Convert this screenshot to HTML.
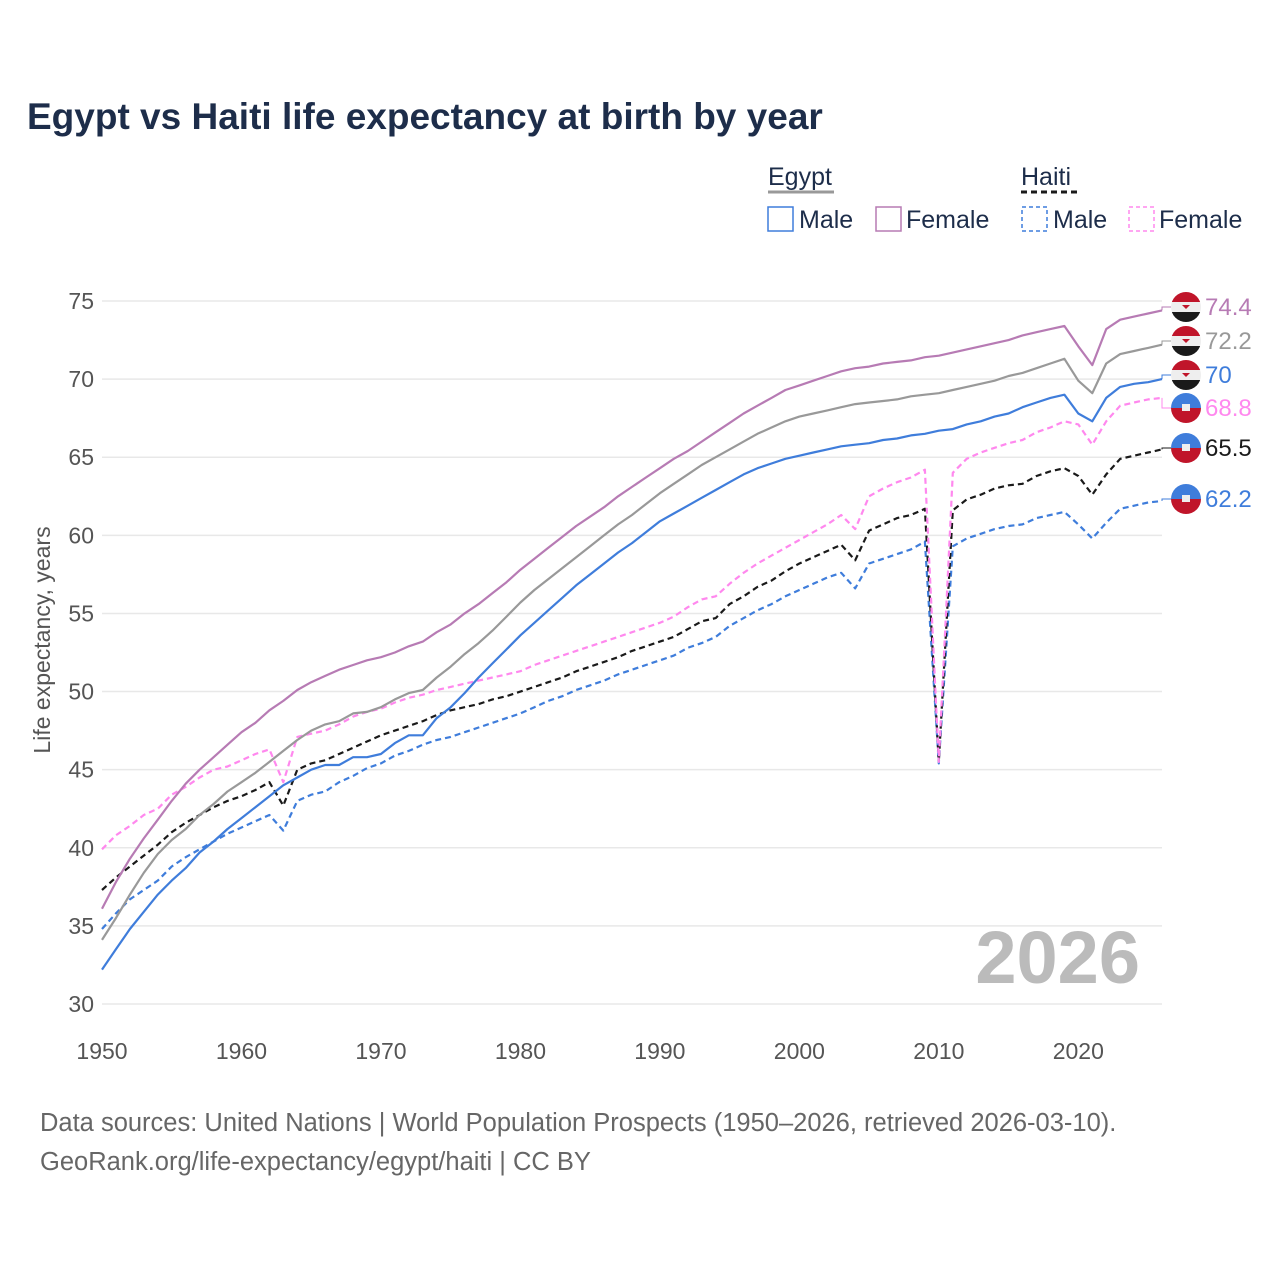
<!DOCTYPE html>
<html><head><meta charset="utf-8"><style>
body{margin:0;background:#fff;font-family:"Liberation Sans",sans-serif}
svg{display:block}
</style></head><body>
<svg id="chart" width="1280" height="1280" xmlns="http://www.w3.org/2000/svg">
<rect width="1280" height="1280" fill="#fff"/>
<text x="27" y="129" font-size="37" font-weight="bold" fill="#1d2d4a">Egypt vs Haiti life expectancy at birth by year</text>
<g font-size="25" fill="#1d2d4a">
<text x="768" y="185">Egypt</text>
<line x1="768" y1="192" x2="834" y2="192" stroke="#999" stroke-width="3"/>
<text x="1021" y="185">Haiti</text>
<line x1="1021" y1="192" x2="1077" y2="192" stroke="#1a1a1a" stroke-width="3" stroke-dasharray="6 4"/>
<g><rect x="768" y="207" width="25" height="24" fill="none" stroke="#3f7ddb" stroke-width="1.5"/><text x="799" y="228">Male</text></g>
<g><rect x="876" y="207" width="25" height="24" fill="none" stroke="#b77bb4" stroke-width="1.5"/><text x="906" y="228">Female</text></g>
<g><rect x="1022" y="207" width="25" height="24" fill="none" stroke="#3f7ddb" stroke-width="1.5" stroke-dasharray="4 3"/><text x="1053" y="228">Male</text></g>
<g><rect x="1129" y="207" width="25" height="24" fill="none" stroke="#ff88ee" stroke-width="1.5" stroke-dasharray="4 3"/><text x="1159" y="228">Female</text></g>
</g>
<g id="grid"></g>
<g id="yticks"></g>
<g id="xticks"></g>
<text transform="translate(50,640) rotate(-90)" text-anchor="middle" font-size="23" fill="#555">Life expectancy, years</text>
<text x="1140" y="983" text-anchor="end" font-size="74" font-weight="bold" fill="#bbb">2026</text>
<g id="series"></g>
<g id="labels"></g>
<text x="40" y="1131" font-size="25.5" fill="#666">Data sources: United Nations | World Population Prospects (1950–2026, retrieved 2026-03-10).</text>
<text x="40" y="1170" font-size="25.5" fill="#666">GeoRank.org/life-expectancy/egypt/haiti | CC BY</text>
</svg>
<script>
const startYear = 1950;
const yTicks = [30,35,40,45,50,55,60,65,70,75];
const xTicks = [1950,1960,1970,1980,1990,2000,2010,2020];
const egyptFemale = [36.1,37.8,39.3,40.6,41.8,43.0,44.1,45.0,45.8,46.6,47.4,48.0,48.8,49.4,50.1,50.6,51.0,51.4,51.7,52.0,52.2,52.5,52.9,53.2,53.8,54.3,55.0,55.6,56.3,57.0,57.8,58.5,59.2,59.9,60.6,61.2,61.8,62.5,63.1,63.7,64.3,64.9,65.4,66.0,66.6,67.2,67.8,68.3,68.8,69.3,69.6,69.9,70.2,70.5,70.7,70.8,71.0,71.1,71.2,71.4,71.5,71.7,71.9,72.1,72.3,72.5,72.8,73.0,73.2,73.4,72.1,70.9,73.2,73.8,74.0,74.2,74.4];
const egyptTotal = [34.1,35.5,37.0,38.4,39.6,40.5,41.2,42.1,42.8,43.6,44.2,44.8,45.5,46.2,46.9,47.5,47.9,48.1,48.6,48.7,49.0,49.5,49.9,50.1,50.9,51.6,52.4,53.1,53.9,54.8,55.7,56.5,57.2,57.9,58.6,59.3,60.0,60.7,61.3,62.0,62.7,63.3,63.9,64.5,65.0,65.5,66.0,66.5,66.9,67.3,67.6,67.8,68.0,68.2,68.4,68.5,68.6,68.7,68.9,69.0,69.1,69.3,69.5,69.7,69.9,70.2,70.4,70.7,71.0,71.3,69.9,69.1,71.0,71.6,71.8,72.0,72.2];
const egyptMale = [32.2,33.5,34.8,35.9,37.0,37.9,38.7,39.7,40.4,41.2,41.9,42.6,43.3,44.0,44.5,45.0,45.3,45.3,45.8,45.8,46.0,46.7,47.2,47.2,48.3,49.0,49.9,50.9,51.8,52.7,53.6,54.4,55.2,56.0,56.8,57.5,58.2,58.9,59.5,60.2,60.9,61.4,61.9,62.4,62.9,63.4,63.9,64.3,64.6,64.9,65.1,65.3,65.5,65.7,65.8,65.9,66.1,66.2,66.4,66.5,66.7,66.8,67.1,67.3,67.6,67.8,68.2,68.5,68.8,69.0,67.8,67.3,68.8,69.5,69.7,69.8,70.0];
const haitiFemale = [39.9,40.8,41.4,42.1,42.5,43.4,43.9,44.5,45.0,45.2,45.6,46.0,46.3,44.2,47.1,47.3,47.5,47.9,48.4,48.7,48.9,49.3,49.6,49.8,50.1,50.3,50.5,50.7,50.9,51.1,51.3,51.7,52.0,52.3,52.6,52.9,53.2,53.5,53.8,54.1,54.4,54.8,55.4,55.9,56.1,56.9,57.6,58.2,58.7,59.2,59.7,60.2,60.7,61.3,60.4,62.5,63.0,63.4,63.7,64.2,45.5,64.0,64.9,65.3,65.6,65.9,66.1,66.6,66.9,67.3,67.1,65.8,67.3,68.3,68.5,68.7,68.8];
const haitiTotal = [37.3,38.1,38.8,39.5,40.2,41.0,41.6,42.1,42.6,43.0,43.3,43.7,44.2,42.7,45.0,45.4,45.6,46.0,46.4,46.8,47.2,47.5,47.8,48.1,48.5,48.8,49.0,49.2,49.5,49.7,50.0,50.3,50.6,50.9,51.3,51.6,51.9,52.2,52.6,52.9,53.2,53.5,54.0,54.5,54.7,55.6,56.1,56.7,57.1,57.7,58.2,58.6,59.0,59.4,58.4,60.3,60.7,61.1,61.3,61.7,45.5,61.6,62.3,62.6,63.0,63.2,63.3,63.8,64.1,64.3,63.8,62.6,63.9,64.9,65.1,65.3,65.5];
const haitiMale = [34.8,35.8,36.7,37.3,37.9,38.8,39.4,39.9,40.4,40.9,41.3,41.7,42.1,41.1,43.0,43.4,43.6,44.2,44.6,45.1,45.4,45.9,46.2,46.6,46.9,47.1,47.4,47.7,48.0,48.3,48.6,49.0,49.4,49.7,50.1,50.4,50.7,51.1,51.4,51.7,52.0,52.3,52.8,53.1,53.5,54.2,54.7,55.2,55.6,56.1,56.5,56.9,57.3,57.6,56.6,58.2,58.5,58.8,59.1,59.6,45.4,59.3,59.8,60.1,60.4,60.6,60.7,61.1,61.3,61.5,60.7,59.8,60.8,61.7,61.9,62.1,62.2];
const endLabels = ["74.4","72.2","70","68.8","65.5","62.2"];

const NS="http://www.w3.org/2000/svg";
const x0=102,x1=1162,yTop=301,yBot=1004;
function xs(yr){return x0+(yr-1950)*(x1-x0)/76;}
function ys(v){return yBot-(v-30)*(yBot-yTop)/45;}
function mk(tag,attrs,parent){const e=document.createElementNS(NS,tag);for(const k in attrs)e.setAttribute(k,attrs[k]);parent.appendChild(e);return e;}
const grid=document.getElementById('grid'),yt=document.getElementById('yticks'),xt=document.getElementById('xticks');
yTicks.forEach(v=>{
  const l=mk('line',{x1:x0,x2:x1,y1:ys(v),y2:ys(v),stroke:'#e8e8e8','stroke-width':1.5},grid);
  
  
  const t=mk('text',{x:94,y:ys(v)+8,'text-anchor':'end','font-size':23,fill:'#555'},yt);
  t.textContent=v;
  
  
});
xTicks.forEach(v=>{
  const t=mk('text',{x:xs(v),y:1059,'text-anchor':'middle','font-size':23,fill:'#555'},xt);
  t.textContent=v;
  
  
});
const series=[
 {d:haitiMale,c:'#3f7ddb',dash:'6 4',n:'haiti-male-line',ly:499,flag:'ht',lab:endLabels[5]},
 {d:haitiTotal,c:'#1a1a1a',dash:'6 4',n:'haiti-total-line',ly:448,flag:'ht',lab:endLabels[4]},
 {d:haitiFemale,c:'#ff88ee',dash:'6 4',n:'haiti-female-line',ly:408,flag:'ht',lab:endLabels[3]},
 {d:egyptMale,c:'#3f7ddb',dash:null,n:'egypt-male-line',ly:375,flag:'eg',lab:endLabels[2]},
 {d:egyptTotal,c:'#999999',dash:null,n:'egypt-total-line',ly:341,flag:'eg',lab:endLabels[1]},
 {d:egyptFemale,c:'#b77bb4',dash:null,n:'egypt-female-line',ly:307,flag:'eg',lab:endLabels[0]}
];
const sg=document.getElementById('series'),lg=document.getElementById('labels');
series.forEach(s=>{
  const pts=s.d.map((v,i)=>xs(startYear+i).toFixed(1)+','+ys(v).toFixed(1)).join(' ');
  const a={points:pts,fill:'none',stroke:s.c,'stroke-width':2.2,'stroke-linejoin':'round'};
  if(s.dash)a['stroke-dasharray']=s.dash;
  const p=mk('polyline',a,sg);
  
  
  const last=s.d[s.d.length-1];
  mk('polyline',{points:`${x1},${ys(last)} 1162,${ys(last)} 1162,${s.ly} 1171,${s.ly}`,fill:'none',stroke:s.c,'stroke-width':1},lg);
  const g=mk('g',{},lg);
  
  
  const cx=1186,cy=s.ly,r=15;
  const id='c'+s.n;
  const cp=mk('clipPath',{id:id},g);mk('circle',{cx:cx,cy:cy,r:r},cp);
  const fg=mk('g',{'clip-path':`url(#${id})`},g);
  if(s.flag==='eg'){
    mk('rect',{x:cx-r,y:cy-r,width:30,height:10,fill:'#c0152a'},fg);
    mk('rect',{x:cx-r,y:cy-5,width:30,height:10,fill:'#eee'},fg);
    mk('rect',{x:cx-r,y:cy+5,width:30,height:10,fill:'#1a1a1a'},fg);
    mk('path',{d:`M${cx-4},${cy-2} L${cx+4},${cy-2} L${cx},${cy+2} Z`,fill:'#c0152a'},fg);
  } else {
    mk('rect',{x:cx-r,y:cy-r,width:30,height:15,fill:'#3f7ddb'},fg);
    mk('rect',{x:cx-r,y:cy,width:30,height:15,fill:'#c0152a'},fg);
    mk('rect',{x:cx-4,y:cy-4,width:8,height:7,fill:'#eee'},fg);
  }
  const t=mk('text',{x:1205,y:s.ly+8,'font-size':24,fill:s.c==='#999999'?'#999':s.c},g);
  t.textContent=s.lab;
});
</script>
</body></html>
